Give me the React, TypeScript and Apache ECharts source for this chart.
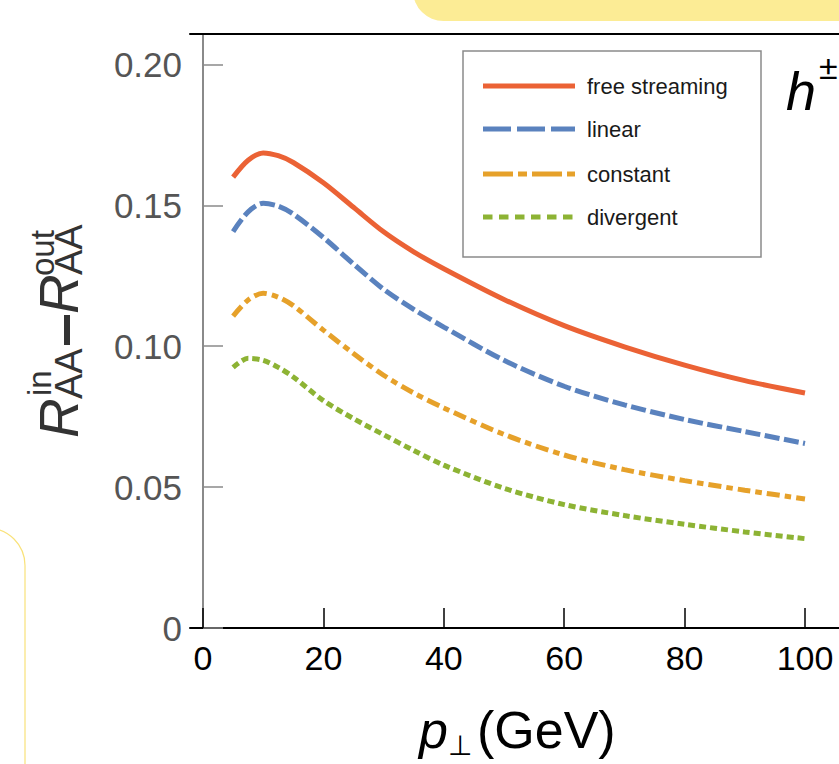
import React, { useEffect, useRef } from "react";
import * as echarts from "echarts";

// ---------------- data ----------------
const seriesNames = ["free streaming", "linear", "constant", "divergent"];
const pT = [5, 7.5, 10, 12.5, 15, 20, 25, 30, 35, 40, 50, 60, 70, 80, 90, 100];
const freeStreaming = [0.16, 0.166, 0.1686, 0.1676, 0.1652, 0.158, 0.1493, 0.1406, 0.1335, 0.1275, 0.1166, 0.1073, 0.0998, 0.0933, 0.0878, 0.0834];
const linear = [0.1407, 0.1477, 0.1507, 0.1497, 0.1469, 0.1386, 0.1292, 0.1202, 0.1131, 0.1068, 0.095, 0.0858, 0.0792, 0.074, 0.0697, 0.0655];
const constant = [0.1107, 0.1164, 0.1188, 0.1174, 0.1144, 0.1057, 0.0974, 0.0897, 0.0834, 0.0781, 0.0687, 0.0614, 0.0562, 0.0523, 0.0489, 0.0458];
const divergent = [0.0925, 0.0957, 0.095, 0.0925, 0.0891, 0.0807, 0.0743, 0.0686, 0.063, 0.0578, 0.0496, 0.0438, 0.0399, 0.0368, 0.0341, 0.0317];
const seriesValues = [freeStreaming, linear, constant, divergent];
const xTicks = [0, 20, 40, 60, 80, 100];
const yTicks = [0, 0.05, 0.1, 0.15, 0.2];
const yTickLabels = ["0", "0.05", "0.10", "0.15", "0.20"];

// ---------------- styles ----------------
const FONT = '"Liberation Sans", Arial, Helvetica, sans-serif';
const colors = ["#EB6235", "#5A82BE", "#E6A12A", "#8DB334"];
const plotDash: (string | number[])[] = ["solid", [15, 4.5], [13, 5, 6.5, 5], [7, 4]];
const legendDash: (string | number[])[] = ["solid", [28, 6], [30, 5, 9, 5], [9.5, 6.5]];

function txt(x: number, baseline: number, text: string, size: number, extra: any = {}) {
  return {
    type: "text",
    x,
    y: baseline - 0.35 * size,
    style: {
      text,
      fontSize: size,
      fontFamily: FONT,
      fill: "#000",
      textAlign: "left",
      textVerticalAlign: "middle",
      verticalAlign: "middle",
      ...extra,
    },
  };
}

export default function App() {
  const ref = useRef<HTMLDivElement>(null);
  useEffect(() => {
    if (!ref.current) return;
    const chart = echarts.init(ref.current, null, { renderer: "svg" });

    const legendYs = [86, 129, 174, 217];
    const legendChildren: any[] = [
      {
        type: "rect",
        shape: { x: 463, y: 51, width: 298, height: 206 },
        style: { fill: "#fff", stroke: "#8a8a8a", lineWidth: 1.5 },
      },
    ];
    seriesNames.forEach((name, i) => {
      legendChildren.push({
        type: "line",
        shape: { x1: 483, y1: legendYs[i], x2: 575, y2: legendYs[i] },
        style: {
          stroke: colors[i],
          lineWidth: 5,
          lineDash: legendDash[i] === "solid" ? null : legendDash[i],
        },
      });
      legendChildren.push(txt(587, legendYs[i] + 7.7, name, 22, { fill: "#1a1a1a" }));
    });

    const option: any = {
      animation: false,
      backgroundColor: "#fff",
      grid: { left: 190, right: 0, top: 34, bottom: 136, containLabel: false },
      xAxis: [
        {
          type: "value",
          min: -2.16,
          max: 105.65,
          position: "bottom",
          axisLine: { show: true, lineStyle: { color: "#000", width: 2 } },
          axisTick: {
            show: true,
            inside: true,
            length: 20,
            customValues: xTicks,
            lineStyle: { color: "#000", width: 1.5 },
          },
          axisLabel: {
            show: true,
            customValues: xTicks,
            color: "#000",
            fontSize: 34,
            fontFamily: FONT,
            margin: 13,
          },
          splitLine: { show: false },
        },
        {
          type: "value",
          min: -2.16,
          max: 105.65,
          position: "top",
          axisLine: { show: true, lineStyle: { color: "#000", width: 2 } },
          axisTick: { show: false },
          axisLabel: { show: false },
          splitLine: { show: false },
        },
      ],
      yAxis: {
        type: "value",
        min: 0,
        max: 0.2108,
        axisLine: { show: true, lineStyle: { color: "#8a8a8a", width: 2 } },
        axisTick: {
          show: true,
          inside: true,
          length: 20,
          customValues: yTicks,
          lineStyle: { color: "#8a8a8a", width: 1.5 },
        },
        axisLabel: {
          show: true,
          customValues: yTicks,
          color: "#555",
          fontSize: 35,
          fontFamily: FONT,
          margin: 8,
          formatter: (v: number) => {
            const idx = yTicks.findIndex((t) => Math.abs(t - v) < 1e-9);
            return idx >= 0 ? yTickLabels[idx] : "";
          },
        },
        splitLine: { show: false },
      },
      series: seriesNames.map((name, i) => ({
        name,
        type: "line",
        xAxisIndex: 0,
        showSymbol: false,
        smooth: 0.3,
        data: pT.map((x, j) => [x, seriesValues[i][j]]),
        lineStyle: { color: colors[i], width: 5, type: plotDash[i], cap: "butt" },
        itemStyle: { color: colors[i] },
        z: 3,
      })),
      graphic: [
        // decorative yellow shapes
        {
          type: "rect",
          shape: { x: 413, y: -40, width: 520, height: 61, r: 45 },
          style: { fill: "#FCEC95" },
          z: 1,
        },
        {
          type: "rect",
          shape: { x: -50, y: 528, width: 75, height: 320, r: 45 },
          style: { fill: "none", stroke: "#F9E27A", lineWidth: 1.2 },
          z: 1,
        },
        // legend
        { type: "group", children: legendChildren, z: 10 },
        // h± label
        txt(786, 110, "h", 54, { fontStyle: "italic" }),
        txt(819, 79, "±", 34),
        // x-axis title
        txt(419, 748, "p", 52, { fontStyle: "italic" }),
        txt(448, 755, "⊥", 28, { fontFamily: '"DejaVu Sans", sans-serif' }),
        txt(477, 748, "(GeV)", 52),
        // y-axis title (rotated)
        {
          type: "group",
          x: 78,
          y: 438,
          rotation: Math.PI / 2,
          children: [
            txt(0, 0, "R", 55, { fontStyle: "italic", fill: "#333" }),
            txt(42, -27, "in", 33, { fill: "#333" }),
            txt(39, 4, "AA", 38, { fill: "#333" }),
            { type: "rect", shape: { x: 93, y: -14, width: 30, height: 6 }, style: { fill: "#333" } },
            txt(124, 0, "R", 55, { fontStyle: "italic", fill: "#333" }),
            txt(162, -24, "out", 33, { fill: "#333" }),
            txt(163, 4, "AA", 38, { fill: "#333" }),
          ],
        },
      ],
    };
    chart.setOption(option);
    return () => chart.dispose();
  }, []);

  return (
    <div
      ref={ref}
      style={{ position: "fixed", left: 0, top: 0, width: 839, height: 764, background: "#fff" }}
    />
  );
}
